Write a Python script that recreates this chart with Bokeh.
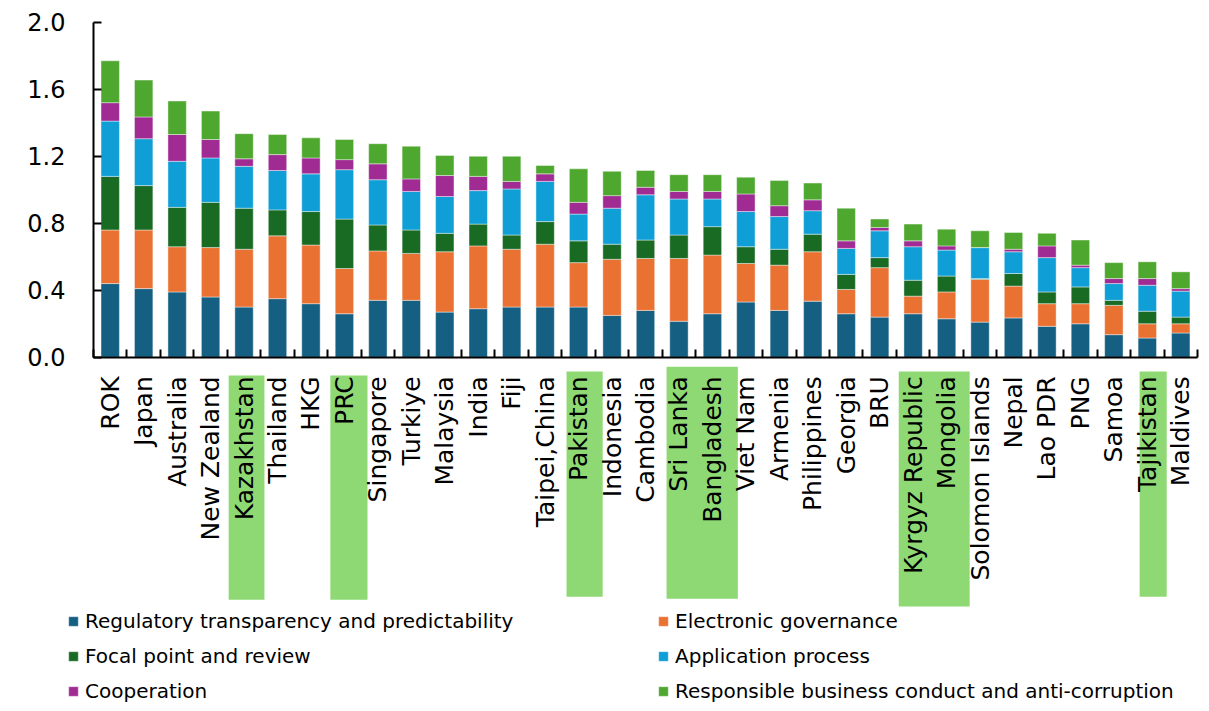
import math
from bokeh.plotting import figure
from bokeh.models import (ColumnDataSource, Range1d, FixedTicker, Legend, LegendItem,
                          NumeralTickFormatter)
from bokeh.embed import file_html
from bokeh.resources import INLINE

countries = ["ROK", "Japan", "Australia", "New Zealand", "Kazakhstan", "Thailand", "HKG", "PRC",
             "Singapore", "Turkiye", "Malaysia", "India", "Fiji", "Taipei,China", "Pakistan",
             "Indonesia", "Cambodia", "Sri Lanka", "Bangladesh", "Viet Nam", "Armenia",
             "Philippines", "Georgia", "BRU", "Kyrgyz Republic", "Mongolia", "Solomon Islands",
             "Nepal", "Lao PDR", "PNG", "Samoa", "Tajikistan", "Maldives"]

regulatory = [0.44, 0.41, 0.39, 0.36, 0.30, 0.35, 0.32, 0.26, 0.34, 0.34, 0.27, 0.29, 0.30, 0.30,
              0.30, 0.25, 0.28, 0.215, 0.26, 0.33, 0.28, 0.335, 0.26, 0.24, 0.26, 0.23, 0.21,
              0.235, 0.185, 0.20, 0.135, 0.115, 0.145]
electronic = [0.32, 0.35, 0.27, 0.295, 0.345, 0.375, 0.35, 0.27, 0.295, 0.28, 0.36, 0.375, 0.345,
              0.375, 0.265, 0.335, 0.31, 0.375, 0.35, 0.23, 0.27, 0.295, 0.145, 0.295, 0.105,
              0.16, 0.255, 0.19, 0.135, 0.12, 0.175, 0.085, 0.055]
focal = [0.32, 0.265, 0.235, 0.27, 0.245, 0.155, 0.20, 0.295, 0.155, 0.14, 0.11, 0.13, 0.085,
         0.135, 0.13, 0.09, 0.11, 0.14, 0.17, 0.10, 0.095, 0.105, 0.09, 0.06, 0.095, 0.095,
         0.005, 0.075, 0.07, 0.10, 0.03, 0.075, 0.04]
application = [0.33, 0.28, 0.275, 0.265, 0.25, 0.235, 0.225, 0.295, 0.27, 0.23, 0.22, 0.20,
               0.275, 0.24, 0.16, 0.215, 0.27, 0.215, 0.165, 0.21, 0.195, 0.14, 0.155, 0.16,
               0.20, 0.155, 0.185, 0.13, 0.205, 0.115, 0.10, 0.155, 0.155]
cooperation = [0.11, 0.13, 0.16, 0.11, 0.045, 0.095, 0.095, 0.06, 0.095, 0.075, 0.125, 0.085,
               0.045, 0.045, 0.07, 0.075, 0.045, 0.045, 0.045, 0.105, 0.065, 0.065, 0.045, 0.02,
               0.035, 0.025, 0.0, 0.015, 0.07, 0.015, 0.03, 0.04, 0.015]
responsible = [0.25, 0.22, 0.20, 0.17, 0.15, 0.12, 0.12, 0.12, 0.12, 0.195, 0.12, 0.12, 0.15,
               0.05, 0.20, 0.145, 0.10, 0.10, 0.10, 0.10, 0.15, 0.10, 0.195, 0.05, 0.10, 0.10,
               0.10, 0.10, 0.075, 0.15, 0.095, 0.10, 0.10]

series_names = ["Regulatory transparency and predictability", "Electronic governance",
                "Focal point and review", "Application process", "Cooperation",
                "Responsible business conduct and anti-corruption"]
series_values = [regulatory, electronic, focal, application, cooperation, responsible]
colors = ["#156082", "#E97132", "#196B24", "#0F9ED5", "#A02B93", "#4EA72E"]

highlight_groups = [["Kazakhstan"], ["PRC"], ["Pakistan"], ["Sri Lanka", "Bangladesh"],
                    ["Kyrgyz Republic", "Mongolia"], ["Tajikistan"]]
y_ticks = [0.0, 0.4, 0.8, 1.2, 1.6, 2.0]

FONT = "DejaVu Sans"
keys = ["s%d" % i for i in range(len(series_names))]
xs = list(range(len(countries)))
data = {"x": xs}
for k, v in zip(keys, series_values):
    data[k] = v
src = ColumnDataSource(data)

n = len(countries)
p = figure(width=1201, height=703, x_range=Range1d(-3.280, n - 0.5 + 0.12),
           y_range=Range1d(-2.067, 2.13), output_backend="svg", toolbar_location=None,
           min_border_left=0, min_border_right=0, min_border_top=0, min_border_bottom=0)
p.outline_line_color = None
p.grid.visible = False
p.background_fill_color = "white"

# highlight boxes behind some labels
hl_left, hl_right, hl_top, hl_bottom = [], [], [], []
box_tops = [-0.109, -0.109, -0.085, -0.056, -0.085, -0.085]
box_bottoms = [-1.447, -1.447, -1.429, -1.441, -1.488, -1.429]
box_pad_left = [0.46, 0.42, 0.36, 0.37, 0.43, 0.23]
box_pad_right = [0.61, 0.69, 0.72, 0.76, 0.69, 0.58]
for g, t, b, pl, pr in zip(highlight_groups, box_tops, box_bottoms, box_pad_left, box_pad_right):
    i0 = countries.index(g[0])
    i1 = countries.index(g[-1])
    hl_left.append(i0 - pl)
    hl_right.append(i1 + pr)
    hl_top.append(t)
    hl_bottom.append(b)
p.quad(left=hl_left, right=hl_right, top=hl_top, bottom=hl_bottom,
       fill_color="#8ED973", line_color=None)

rs = p.vbar_stack(keys, x="x", width=0.55, source=src, fill_color=colors,
                  line_color="white", line_width=0.6, line_alpha=0.7)

xax = p.xaxis[0]
xax.fixed_location = 0
xax.bounds = (-0.5, n - 0.5)
xax.ticker = FixedTicker(ticks=xs, minor_ticks=[i - 0.5 for i in range(n + 1)])
xax.major_label_overrides = {i: c for i, c in enumerate(countries)}
xax.major_label_orientation = math.pi / 2
xax.major_tick_line_color = None
xax.major_tick_in = 0
xax.major_tick_out = 0
xax.minor_tick_in = 8
xax.minor_tick_out = 0
xax.minor_tick_line_color = "black"
xax.minor_tick_line_width = 2
xax.axis_line_color = "black"
xax.axis_line_width = 2
xax.major_label_standoff = 19
xax.major_label_text_font = FONT
xax.major_label_text_font_size = "25px"
xax.major_label_text_color = "black"

yax = p.yaxis[0]
yax.fixed_location = -0.5
yax.ticker = FixedTicker(ticks=y_ticks)
yax.formatter = NumeralTickFormatter(format="0.0")
yax.bounds = (0, 2.0)
yax.major_tick_in = 8
yax.major_tick_out = 0
yax.major_tick_line_width = 2
yax.minor_tick_line_color = None
yax.axis_line_width = 2
yax.axis_line_color = "black"
yax.major_label_standoff = 28
yax.major_label_text_font = FONT
yax.major_label_text_font_size = "24px"
yax.major_label_text_color = "black"


def make_legend(idx, loc):
    leg = Legend(items=[LegendItem(label=series_names[i], renderers=[rs[i]]) for i in idx],
                 location=loc, orientation="vertical")
    leg.label_text_font = FONT
    leg.label_text_font_size = "20px"
    leg.label_text_color = "black"
    leg.glyph_width = 12
    leg.glyph_height = 12
    leg.label_standoff = 6
    leg.spacing = 11
    leg.label_height = 24
    leg.padding = 0
    leg.margin = 0
    leg.border_line_color = None
    leg.background_fill_alpha = 0
    return leg


p.add_layout(make_legend([0, 2, 4], (67, 0)))
p.add_layout(make_legend([1, 3, 5], (657, 0)))

open("out.html", "w").write(file_html(p, INLINE))
